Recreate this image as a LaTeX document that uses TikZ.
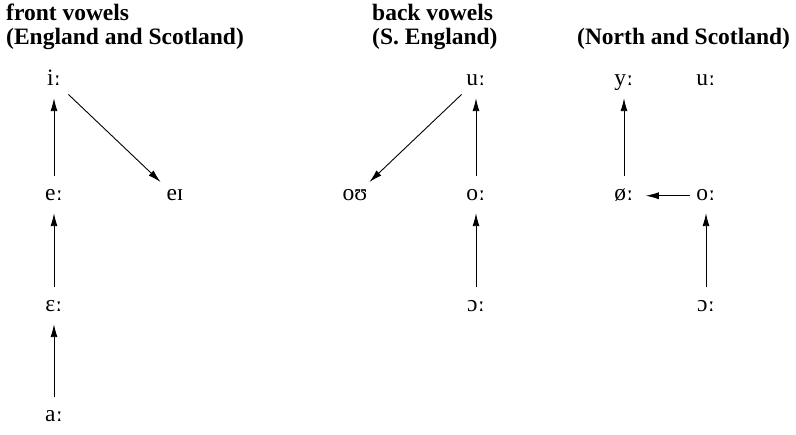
\documentclass[tikz,border=0pt]{standalone}
\usepackage{fontspec}
\setmainfont{Liberation Serif}
\newfontfamily\ipaalt{DejaVu Serif}
\usetikzlibrary{arrows.meta}
% length mark drawn with wedge-shaped dots
\newcommand\vlen{{\ipaalt\fontsize{22}{24}\selectfont ː}}
\begin{document}
\begin{tikzpicture}[x=1pt,y=-1pt,
  title/.style={anchor=base west,inner sep=0pt,font=\fontsize{23.5}{24}\selectfont\bfseries},
  vowel/.style={anchor=base,inner sep=0pt,text height=10.5pt,text depth=0pt,
    font=\fontsize{23.5}{24}\selectfont},
  arr/.style={-{Latex[length=13pt,width=7pt]},line width=0.9pt},
  up/.style={arr,shorten <=14pt,shorten >=12pt}]
\useasboundingbox (0,0) rectangle (796,435);

% column headings
\node[title] (t1a) at (6,21) {front vowels};
\node[title] (t1b) at (6,45) {(England and Scotland)};
\node[title] (t2a) at (372,21) {back vowels};
\node[title] (t2b) at (372,45) {(S. England)};
\node[title] (t3b) at (577,45) {(North and Scotland)};

% front vowels
\node[vowel] (i)  at (54,86)  {i\vlen};
\node[vowel] (e)  at (54,201) {e\vlen};
\node[vowel] (E)  at (54,312) {ɛ\vlen};
\node[vowel] (a)  at (54,422) {a\vlen};
\node[vowel] (ei) at (175,201) {eɪ};

% back vowels, southern England
\node[vowel] (u)  at (476,86)  {u\vlen};
\node[vowel] (o)  at (476,201) {o\vlen};
\node[vowel] (O)  at (476,312) {ɔ\vlen};
\node[vowel] (ou) at (355,201) {oʊ};

% back vowels, North and Scotland
\node[vowel] (y)  at (624,86)  {y\vlen};
\node[vowel] (un) at (706,86)  {u\vlen};
\node[vowel] (oe) at (624,201) {ø\vlen};
\node[vowel] (on) at (706,201) {o\vlen};
\node[vowel] (On) at (706,312) {ɔ\vlen};

% shifts
\draw[up] (e) -- (i);
\draw[up] (E) -- (e);
\draw[up] (a) -- (E);
\draw[arr,shorten <=12pt,shorten >=12pt] (i) -- (ei);

\draw[up] (o) -- (u);
\draw[up] (O) -- (o);
\draw[arr,shorten <=12pt,shorten >=12pt] (u) -- (ou);

\draw[up] (oe) -- (y);
\draw[up] (On) -- (on);
\draw[arr,shorten <=6pt,shorten >=12pt] (on) -- (oe);
\end{tikzpicture}
\end{document}
